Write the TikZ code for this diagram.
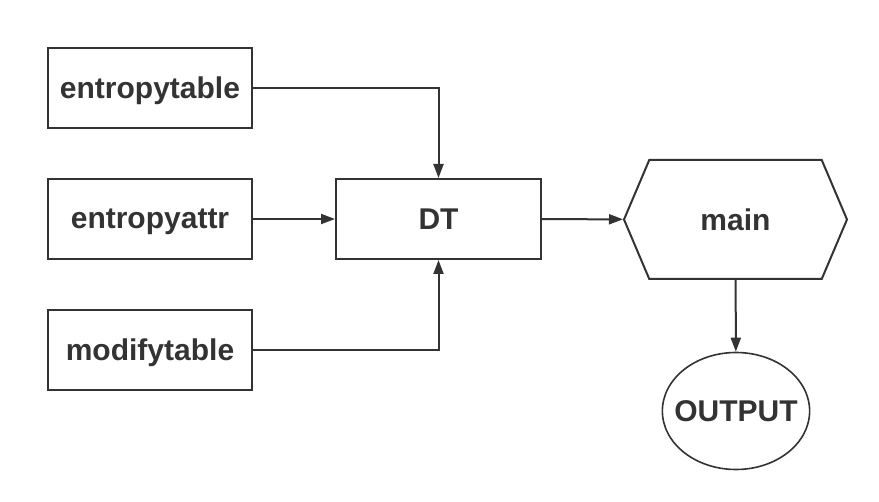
\documentclass[tikz,border=0pt]{standalone}
\usepackage{fontspec}
\setmainfont{Liberation Sans}
\usetikzlibrary{positioning,shapes.symbols,shapes.geometric,arrows.meta}
\definecolor{ink}{HTML}{333333}
\tikzset{x=0.5pt, y=-0.5pt, >={Triangle[length=7pt,width=5pt]},
  every node/.style={font=\fontsize{15}{16}\selectfont\bfseries, text=ink,
    text depth=0pt},
  module/.style={draw=ink, line width=1pt, inner sep=0pt,
    minimum width=102pt, minimum height=40pt},
  program/.style={signal, signal to=west and east, signal pointer angle=134,
    draw=ink, line width=1pt, inner sep=0pt,
    minimum width=111.5pt, minimum height=59.5pt},
  result/.style={ellipse, draw=ink, line width=0.8pt, inner xsep=-4.8pt,
    inner ysep=0pt, minimum width=72.5pt, minimum height=58.5pt},
  link/.style={->, draw=ink, line width=1pt}}

\begin{document}
\begin{tikzpicture}
      \useasboundingbox (0,0) rectangle (879,502);
      \node[module] (entropytable) at (150,88)  {entropytable};
      \node[module] (entropyattr)  at (150,219) {entropyattr};
      \node[module] (modifytable)  at (150,350) {modifytable};
      \node[module, minimum width=102.5pt] (DT) at (438.5,219) {DT};
      \node[program] (main)   at (735.5,219.5) {main};
      \node[result]  (OUTPUT) at (736,411)     {OUTPUT};

      \draw[link] (entropytable) -| (DT);
      \draw[link] (entropyattr) -- (DT);
      \draw[link] (modifytable) -| (DT);
      \draw[link] (DT) -- (main);
      \draw[link] (main) -- (OUTPUT);
    \end{tikzpicture}
\end{document}
